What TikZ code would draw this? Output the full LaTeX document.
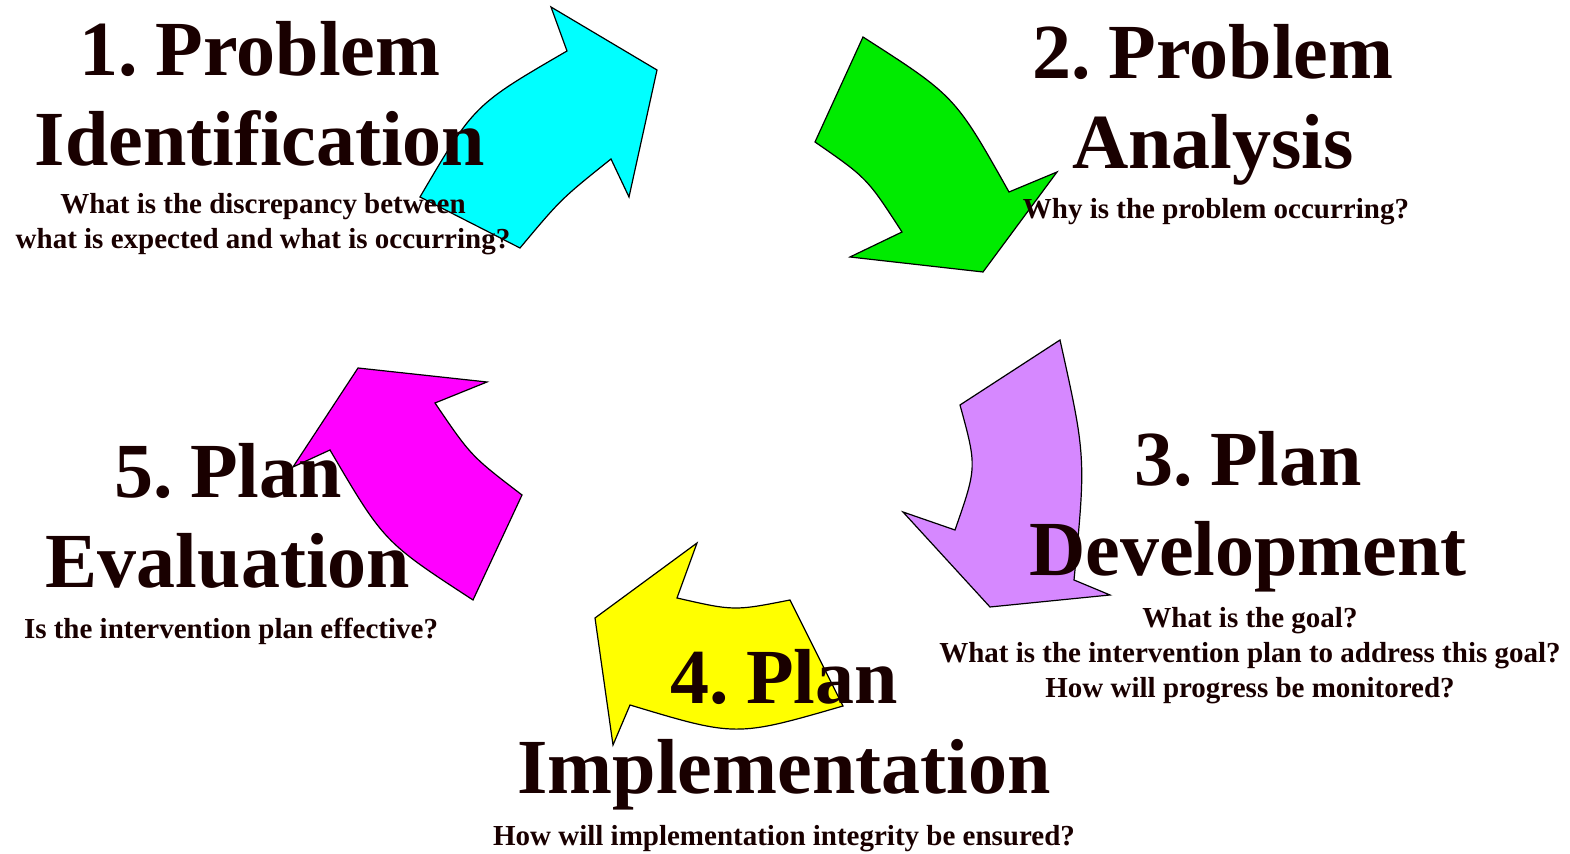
\documentclass[tikz,border=0pt]{standalone}
\usepackage{fontspec}
\setmainfont{Liberation Serif}
\definecolor{stepcyan}{RGB}{0,255,255}
\definecolor{stepgreen}{RGB}{0,235,0}
\definecolor{steppurple}{RGB}{214,136,255}
\definecolor{stepyellow}{RGB}{255,255,0}
\definecolor{stepmagenta}{RGB}{255,0,255}
\newcommand\steptitlefont{\fontsize{39}{45}\selectfont\bfseries\spaceskip 0.14em\relax}
\tikzset{
  cyclearrow/.style={draw=black, line width=0.6pt, line join=miter},
  title/.style={align=center, inner sep=0pt, anchor=north,
    font=\steptitlefont, text=black!90!red},
  question/.style={align=center, inner sep=0pt, anchor=north,
    font=\fontsize{14.5}{17.5}\selectfont\bfseries, text=black!90!red}
}
\begin{document}
\begin{tikzpicture}[x=0.5pt, y=-0.5pt]
    \useasboundingbox (0,0) rectangle (1570,854);
    % the five arrows of the cycle
    \filldraw [cyclearrow, fill=stepcyan] (420,197) .. controls (474,105) .. (567,51)
        -- (551,7) -- (657,70) -- (629,197) -- (611,159)
        .. controls (561,199) .. (520,248) -- cycle;
    \filldraw [cyclearrow, fill=stepgreen] (863,37) .. controls (955,96) .. (1009,192)
        -- (1057,172) -- (983,272) -- (850,257) -- (902,232)
        .. controls (867,178) .. (815,142) -- cycle;
    \filldraw [cyclearrow, fill=steppurple] (1060,340) .. controls (1086,457) .. (1074,580)
        -- (1110,595) -- (990,607) -- (903,512) -- (955,530)
        .. controls (977,467) .. (960,405) -- cycle;
    \filldraw [cyclearrow, fill=stepyellow] (790,600) -- (843,706)
        .. controls (736,737) .. (630,705) -- (613,745) -- (595,618)
        -- (697,543) -- (677,598) .. controls (734,611) .. cycle;
    \filldraw [cyclearrow, fill=stepmagenta] (522,495) .. controls (471,456) .. (435,403)
        -- (487,382) -- (358,368) -- (293,467) -- (330,450)
        .. controls (384,542) .. (473,600) -- cycle;
    % step names and questions
    \node [title] (t1) at (260,21) {1. Problem\\Identification};
    \node [question] (q1) at (263,193) {What is the discrepancy between\\what is expected and what is occurring?};
    \node [title] (t2) at (1213,24) {2. Problem\\Analysis};
    \node [question] (q2) at (1216,198) {Why is the problem occurring?};
    \node [title] (t3) at (1248,431) {3. Plan\\Development};
    \node [question] (q3) at (1250,607) {What is the goal?\\What is the intervention plan to address this goal?\\How will progress be monitored?};
    \node [title] (t4) at (784,649) {4. Plan\\Implementation};
    \node [question] (q4) at (784,825) {How will implementation integrity be ensured?};
    \node [title] (t5) at (228,443) {5. Plan\\Evaluation};
    \node [question] (q5) at (231,618) {Is the intervention plan effective?};
\end{tikzpicture}
\end{document}
